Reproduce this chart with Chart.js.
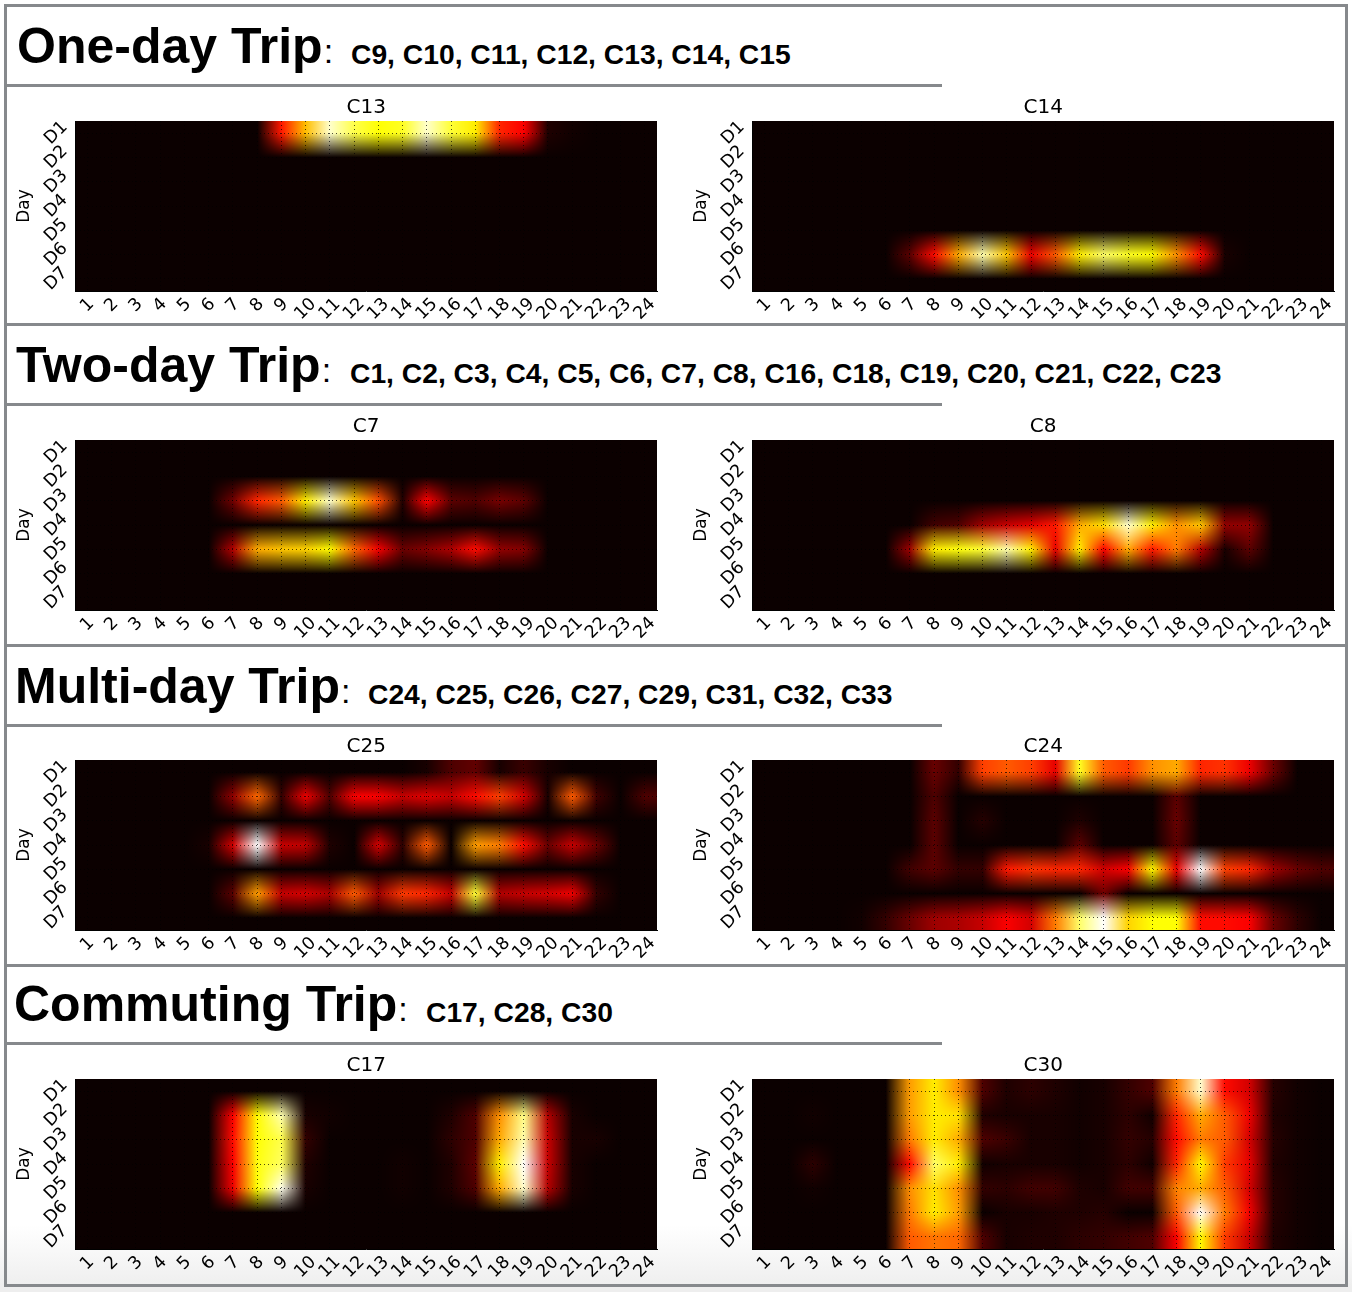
<!DOCTYPE html>
<html>
<head>
<meta charset="utf-8">
<title>Trip clusters</title>
<script src="https://cdn.jsdelivr.net/npm/chart.js@4"></script>
<style>
  html, body { margin: 0; padding: 0; }
  body { width: 1352px; height: 1292px; position: relative; overflow: hidden; font-family: "Liberation Sans", Arial, sans-serif;
         background: linear-gradient(to bottom, #fff 0, #fff 1225px, #eeeeee 1287px, #eeeeee 100%); }
  .rule { position: absolute; background: #86898c; }
  .head { position: absolute; white-space: nowrap; color: #000; line-height: 60px; height: 60px; }
  .head b { font-size: 50px; font-weight: bold; }
  .head i { font-style: normal; font-size: 34px; margin-left: 1px; }
  .list { position: absolute; white-space: nowrap; color: #000; font-size: 28.25px; font-weight: bold; line-height: 34px; }
  canvas { position: absolute; }
</style>
</head>
<body>
<script>
// tick labels
const hourLabels = ["1","2","3","4","5","6","7","8","9","10","11","12","13","14","15","16","17","18","19","20","21","22","23","24"];
const dayLabels = ["D1","D2","D3","D4","D5","D6","D7"];

// trip share per day (rows) and hour (columns)
const c13 = [
  [0,0,0,0,0,0,0,0,.40,.65,.95,.82,.75,.78,.95,.80,.72,.42,.36,.03,.01,0,0,0],
  [0,0,0,0,0,0,0,0,0,0,0,0,0,0,0,0,0,0,0,0,0,0,0,0],
  [0,0,0,0,0,0,0,0,0,0,0,0,0,0,0,0,0,0,0,0,0,0,0,0],
  [0,0,0,0,0,0,0,0,0,0,0,0,0,0,0,0,0,0,0,0,0,0,0,0],
  [0,0,0,0,0,0,0,0,0,0,0,0,0,0,0,0,0,0,0,0,0,0,0,0],
  [0,0,0,0,0,0,0,0,0,0,0,0,0,0,0,0,0,0,0,0,0,0,0,0],
  [0,0,0,0,0,0,0,0,0,0,0,0,0,0,0,0,0,0,0,0,0,0,0,0]
];
const c14 = [
  [0,0,0,0,0,0,0,0,0,0,0,0,0,0,0,0,0,0,0,0,0,0,0,0],
  [0,0,0,0,0,0,0,0,0,0,0,0,0,0,0,0,0,0,0,0,0,0,0,0],
  [0,0,0,0,0,0,0,0,0,0,0,0,0,0,0,0,0,0,0,0,0,0,0,0],
  [0,0,0,0,0,0,0,0,0,0,0,0,0,0,0,0,0,0,0,0,0,0,0,0],
  [0,0,0,0,0,0,0,0,0,0,0,0,0,0,0,0,0,0,0,0,0,0,0,0],
  [0,0,0,0,0,0,.12,.38,.62,.92,.66,.34,.50,.72,.85,.78,.74,.58,.38,.02,0,0,0,0],
  [0,0,0,0,0,0,0,0,0,0,0,0,0,0,0,0,0,0,0,0,0,0,0,0]
];
const c7 = [
  [0,0,0,0,0,0,0,0,0,0,0,0,0,0,0,0,0,0,0,0,0,0,0,0],
  [0,0,0,0,0,0,0,0,0,0,0,0,0,0,0,0,0,0,0,0,0,0,0,0],
  [0,0,0,0,0,0,.15,.42,.50,.72,.95,.66,.48,.03,.36,.12,.10,.16,.12,0,0,0,0,0],
  [0,0,0,0,0,0,0,0,0,0,0,0,0,0,0,0,0,0,0,0,0,0,0,0],
  [0,0,0,0,0,0,.25,.62,.66,.68,.74,.52,.35,.14,.18,.24,.38,.20,.18,0,0,0,0,0],
  [0,0,0,0,0,0,0,0,0,0,0,0,0,0,0,0,0,0,0,0,0,0,0,0],
  [0,0,0,0,0,0,0,0,0,0,0,0,0,0,0,0,0,0,0,0,0,0,0,0]
];
const c8 = [
  [0,0,0,0,0,0,0,0,0,0,0,0,0,0,0,0,0,0,0,0,0,0,0,0],
  [0,0,0,0,0,0,0,0,0,0,0,0,0,0,0,0,0,0,0,0,0,0,0,0],
  [0,0,0,0,0,0,0,0,0,0,0,0,0,0,0,0,0,0,0,0,0,0,0,0],
  [0,0,0,0,0,0,0,.08,.10,.22,.28,.32,.40,.62,.70,.95,.72,.58,.66,.20,.20,0,0,0],
  [0,0,0,0,0,0,.22,.72,.76,.80,.92,.72,.33,.72,.36,.62,.40,.55,.25,.02,.12,0,0,0],
  [0,0,0,0,0,0,0,0,0,0,0,0,0,0,0,0,0,0,0,0,0,0,0,0],
  [0,0,0,0,0,0,0,0,0,0,0,0,0,0,0,0,0,0,0,0,0,0,0,0]
];
const c25 = [
  [0,0,0,0,0,0,0,0,0,0,0,0,0,0,.02,.10,.13,.02,.07,.02,0,0,0,0],
  [0,0,0,0,0,0,.20,.52,.06,.34,.10,.36,.36,.28,.32,.28,.38,.46,.30,.02,.50,.08,0,.10],
  [0,0,0,0,0,0,0,0,0,0,0,0,0,0,0,0,0,0,0,0,0,0,0,0],
  [0,0,0,0,0,.02,.30,1,.28,.27,.03,0,.30,.05,.50,0,.60,.55,.38,.14,.28,.14,0,0],
  [0,0,0,0,0,0,0,0,0,0,0,0,0,0,0,0,0,0,0,0,0,0,0,0],
  [0,0,0,0,0,0,.12,.60,.28,.30,.24,.50,.22,.45,.42,.28,.80,.25,.28,.30,.34,.06,0,0],
  [0,0,0,0,0,0,0,0,0,0,0,0,0,0,0,0,0,0,0,0,0,0,0,0]
];
const c24 = [
  [0,0,0,0,0,0,0,.14,.06,.46,.50,.46,.33,.78,.50,.45,.58,.62,.42,.44,.34,.14,0,0],
  [0,0,0,0,0,0,0,.10,0,0,0,0,0,0,0,0,0,.12,0,0,0,0,0,0],
  [0,0,0,0,0,0,0,.12,0,.04,0,0,0,.03,0,0,0,.14,0,0,0,0,0,0],
  [0,0,0,0,0,0,0,.12,0,0,0,0,0,.12,0,0,0,.12,0,0,0,0,0,0],
  [0,0,0,0,0,0,.08,.12,.06,.06,.40,.44,.42,.42,.30,.36,.74,.34,1,.46,.42,.22,.14,.10],
  [0,0,0,0,0,0,0,0,0,0,0,0,0,0,.15,0,0,0,0,0,0,0,0,0],
  [0,0,0,0,.01,.06,.14,.22,.24,.28,.36,.30,.55,.85,1,.68,.75,.75,.38,.38,.36,.14,.05,0]
];
const c17 = [
  [0,0,0,0,0,0,0,0,0,0,0,0,0,0,0,0,0,0,0,0,0,0,0,0],
  [0,0,0,0,0,0,.36,.74,.92,.02,.01,0,0,0,0,.03,.10,.58,.88,.25,.02,0,0,0],
  [0,0,0,0,0,0,.38,.75,.82,.06,0,0,0,0,0,.05,.10,.62,.92,.28,.02,.02,0,0],
  [0,0,0,0,0,0,.36,.76,.84,.03,0,0,0,.01,0,.03,.12,.72,1,.28,.02,0,0,0],
  [0,0,0,0,0,0,.34,.75,.98,.02,0,0,0,.01,0,.03,.10,.62,.95,.25,.02,0,0,0],
  [0,0,0,0,0,0,0,0,0,0,0,0,0,0,0,0,0,0,0,0,0,0,0,0],
  [0,0,0,0,0,0,0,0,0,0,0,0,0,0,0,0,0,0,0,0,0,0,0,0]
];
const c30 = [
  [0,0,0,0,0,0,.60,.72,.58,.10,.03,.05,.03,.01,.02,.06,.10,.55,.95,.38,.30,.04,.01,0],
  [0,0,.01,0,0,0,.60,.72,.70,.03,.02,.02,.02,.01,.02,.05,.01,.42,.62,.50,.34,.03,.01,0],
  [0,0,0,0,0,0,.55,.72,.62,.10,.07,.02,.02,.01,.02,.06,.04,.38,.55,.50,.30,.04,.01,0],
  [0,0,.05,0,0,0,.38,.85,.72,.01,.02,.02,.02,.01,.02,.05,.01,.42,.74,.45,.33,.03,.01,0],
  [0,0,.01,0,0,0,.58,.70,.58,.06,.05,.08,.08,.03,.02,.08,.08,.56,.62,.50,.30,.04,.01,0],
  [0,0,0,0,0,0,.55,.72,.60,0,.02,.02,.03,.03,.04,0,0,.50,1,.55,.35,.04,.01,0],
  [0,0,0,0,0,0,.50,.54,.52,.10,.02,.03,.03,.05,.06,.08,.10,.36,.74,.45,.28,.03,.01,0]
];

// section headings
const sections = [
  { name: "One-day Trip", x: 17, list: "C9, C10, C11, C12, C13, C14, C15", listX: 351, top: 16 },
  { name: "Two-day Trip", x: 16, list: "C1, C2, C3, C4, C5, C6, C7, C8, C16, C18, C19, C20, C21, C22, C23", listX: 350, top: 335 },
  { name: "Multi-day Trip", x: 15, list: "C24, C25, C26, C27, C29, C31, C32, C33", listX: 368, top: 656 },
  { name: "Commuting Trip", x: 14, list: "C17, C28, C30", listX: 426, top: 974 }
];
const panels = [
  { title: "C13", cells: c13, left: 0, top: 91 },
  { title: "C14", cells: c14, left: 677, top: 91 },
  { title: "C7", cells: c7, left: 0, top: 410 },
  { title: "C8", cells: c8, left: 677, top: 410 },
  { title: "C25", cells: c25, left: 0, top: 730 },
  { title: "C24", cells: c24, left: 677, top: 730 },
  { title: "C17", cells: c17, left: 0, top: 1049 },
  { title: "C30", cells: c30, left: 677, top: 1049 }
];

// frame and separators
function rule(x, y, w, h) {
  const d = document.createElement("div");
  d.className = "rule";
  d.style.cssText = `left:${x}px;top:${y}px;width:${w}px;height:${h}px`;
  document.body.appendChild(d);
}
rule(4, 4, 1344, 3);
rule(4, 1284, 1344, 3);
rule(4, 4, 3, 1283);
rule(1345, 4, 3, 1283);
[323, 644, 964].forEach(y => rule(4, y, 1344, 3));
[84, 403, 724, 1042].forEach(y => rule(7, y, 935, 3));

sections.forEach(s => {
  const h = document.createElement("div");
  h.className = "head";
  h.style.cssText = `left:${s.x}px;top:${s.top}px`;
  h.innerHTML = `<b>${s.name}</b><i>:</i>`;
  document.body.appendChild(h);
  const l = document.createElement("div");
  l.className = "list";
  l.style.cssText = `left:${s.listX}px;top:${s.top + 21}px`;
  l.textContent = s.list;
  document.body.appendChild(l);
});

// matplotlib "hot" colormap
function hot(v) {
  const r = Math.min(1, 0.0416 + v / 0.365 * 0.9584);
  const g = Math.max(0, Math.min(1, (v - 0.365) / 0.381));
  const b = Math.max(0, Math.min(1, (v - 0.746) / 0.254));
  return [r * 255, g * 255, b * 255];
}

// paints the cells through the scales, smoothing the colours bilinearly like imshow
const heatCells = {
  id: "heatCells",
  beforeDatasetsDraw(chart) {
    const xs = chart.scales.x, ys = chart.scales.y, a = chart.chartArea;
    const nx = hourLabels.length, ny = dayLabels.length;
    const colors = [];
    chart.data.datasets[0].data.forEach(p => {
      colors[dayLabels.indexOf(p.y) * nx + hourLabels.indexOf(p.x)] = hot(p.v);
    });
    const x0 = xs.getPixelForValue(0), cw = xs.getPixelForValue(1) - x0;
    const y0 = ys.getPixelForValue(0), ch = ys.getPixelForValue(1) - y0;
    const w = Math.round(a.right - a.left), h = Math.round(a.bottom - a.top);
    const off = document.createElement("canvas");
    off.width = w;
    off.height = h;
    const o = off.getContext("2d");
    const img = o.createImageData(w, h);
    const clampX = i => Math.max(0, Math.min(nx - 1, i));
    const clampY = i => Math.max(0, Math.min(ny - 1, i));
    for (let py = 0; py < h; py++) {
      const fy = (a.top + py + 0.5 - y0) / ch, iy = Math.floor(fy), ty = fy - iy;
      for (let px = 0; px < w; px++) {
        const fx = (a.left + px + 0.5 - x0) / cw, ix = Math.floor(fx), tx = fx - ix;
        const r0 = clampY(iy) * nx, r1 = clampY(iy + 1) * nx, c0 = clampX(ix), c1 = clampX(ix + 1);
        for (let c = 0; c < 3; c++) {
          const top = colors[r0 + c0][c] * (1 - tx) + colors[r0 + c1][c] * tx;
          const bot = colors[r1 + c0][c] * (1 - tx) + colors[r1 + c1][c] * tx;
          img.data[(py * w + px) * 4 + c] = top * (1 - ty) + bot * ty;
        }
        img.data[(py * w + px) * 4 + 3] = 255;
      }
    }
    o.putImageData(img, 0, 0);
    chart.ctx.drawImage(off, a.left, a.top);
  }
};

// rotated tick labels, centred on the tick the way the original has them
const slantedTicks = {
  id: "slantedTicks",
  afterDraw(chart) {
    const ctx = chart.ctx, xs = chart.scales.x, ys = chart.scales.y, a = chart.chartArea;
    const lh = 12.4, s = Math.SQRT1_2;
    ctx.save();
    ctx.font = '17.5px "DejaVu Sans"';
    ctx.fillStyle = "#000";
    ctx.textAlign = "center";
    ctx.textBaseline = "middle";
    hourLabels.forEach((t, i) => {
      const w = ctx.measureText(t).width;
      ctx.save();
      ctx.translate(xs.getPixelForValue(i), a.bottom + 6 + (w + lh) * s / 2);
      ctx.rotate(-Math.PI / 4);
      ctx.fillText(t, 0, 0);
      ctx.restore();
    });
    dayLabels.forEach((t, i) => {
      const w = ctx.measureText(t).width;
      ctx.save();
      ctx.translate(a.left - 6 - (w + lh) * s / 2, ys.getPixelForValue(i));
      ctx.rotate(-Math.PI / 4);
      ctx.fillText(t, 0, 0);
      ctx.restore();
    });
    ctx.restore();
  }
};

panels.forEach(p => {
  const cv = document.createElement("canvas");
  cv.width = 660;
  cv.height = 230;
  cv.style.left = p.left + "px";
  cv.style.top = p.top + "px";
  document.body.appendChild(cv);
  const points = [];
  p.cells.forEach((row, d) => row.forEach((v, h) => points.push({ x: hourLabels[h], y: dayLabels[d], v: v })));
  new Chart(cv, {
    type: "scatter",
    data: { datasets: [{ label: p.title, data: points, pointRadius: 0 }] },
    plugins: [heatCells, slantedTicks],
    options: {
      responsive: false,
      animation: false,
      layout: { padding: { left: 14, right: 3, bottom: 30 } },
      plugins: {
        legend: { display: false },
        tooltip: { enabled: false },
        title: { display: true, fullSize: false, text: p.title, color: "#000", font: { family: "DejaVu Sans", size: 20, weight: "normal", lineHeight: 1.2 }, padding: { top: 5, bottom: 1 } }
      },
      scales: {
        x: {
          type: "category",
          labels: hourLabels,
          offset: true,
          ticks: { display: false },
          grid: { color: "rgba(0,0,0,0.7)", lineWidth: 1, drawTicks: false, z: 1, offset: false },
          border: { color: "#000", dash: [1, 3], z: 1 }
        },
        y: {
          type: "category",
          labels: dayLabels,
          offset: true,
          ticks: { display: false },
          title: { display: true, text: "Day", color: "#000", font: { family: "DejaVu Sans", size: 17, lineHeight: 1.2 }, padding: { top: 0, bottom: 41 } },
          grid: { color: "rgba(0,0,0,0.7)", lineWidth: 1, drawTicks: false, z: 1, offset: false },
          border: { color: "#000", dash: [1, 3], z: 1 }
        }
      }
    }
  });
});
</script>
</body>
</html>
